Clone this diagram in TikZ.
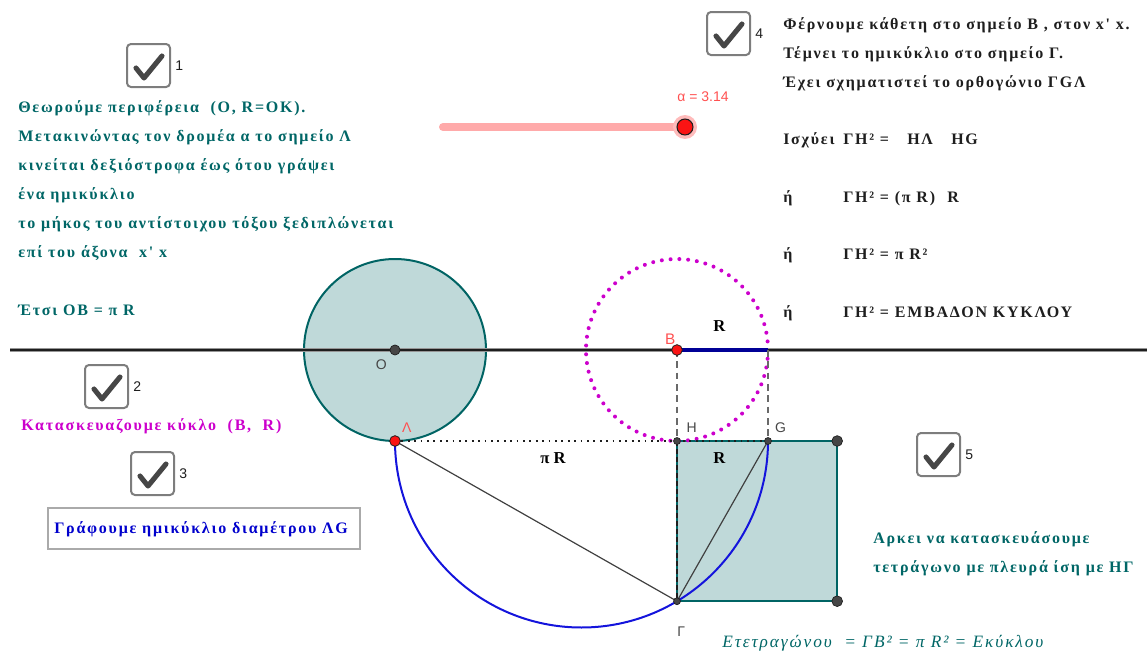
\documentclass[tikz,border=0pt]{standalone}
\usepackage{fontspec}
\setmainfont{Liberation Serif}
\newfontfamily\ptfont{Liberation Sans}
\newfontfamily\wideserif[LetterSpace=11]{Liberation Serif}
\usetikzlibrary{calc,positioning}
\definecolor{primary}{RGB}{30,30,30}
\definecolor{tealtext}{RGB}{0,102,102}
\definecolor{tealline}{RGB}{0,100,100}
\definecolor{discfill}{RGB}{191,217,217}
\definecolor{magentadot}{RGB}{204,0,204}
\definecolor{arcblue}{RGB}{20,20,220}
\definecolor{segblue}{RGB}{0,0,150}
\definecolor{ptred}{RGB}{250,20,20}
\definecolor{lblred}{RGB}{255,80,80}
\definecolor{slidered}{RGB}{255,170,170}
\definecolor{boxgray}{RGB}{125,125,125}
\definecolor{ptgray}{RGB}{70,70,70}
\definecolor{dashgray}{RGB}{105,105,105}
\definecolor{axisgray}{RGB}{150,150,150}
\definecolor{notegray}{RGB}{170,170,170}
\definecolor{noteblue}{RGB}{0,0,205}

\tikzset{
  ptlabel/.style={font=\ptfont\fontsize{10.5}{12}\selectfont, text=ptgray, inner sep=0pt},
  redlabel/.style={font=\ptfont\fontsize{10.5}{12}\selectfont, text=lblred, inner sep=0pt},
  bodytext/.style={font=\wideserif\bfseries\fontsize{12}{13}\selectfont, anchor=base west, inner sep=0pt},
  tickbox/.style={draw=boxgray, line width=1.5pt, rounded corners=3pt, fill=white},
  tickmark/.style={draw=ptgray, line width=3.8pt, line cap=round, line join=round},
  graypt/.style={fill=ptgray, draw=primary, line width=0.5pt},
  redpt/.style={fill=ptred, draw=primary, line width=0.6pt},
}

\newcommand{\checkitem}[4]{%
  \draw[tickbox] (#1,#2) rectangle ++(43,43);
  \draw[tickmark] ($(#1,#2)+(9,24)$) -- ++(8,10) -- ++(18,-22);
  \node[ptlabel, text=primary, anchor=west] (#4) at ($(#1,#2)+(48,22)$) {#3};
}

\begin{document}
\begin{tikzpicture}[x=0.75pt,y=-0.75pt]
\useasboundingbox (0,0) rectangle (1147,653);
\coordinate (O) at (395,350);
\coordinate (B) at (677,350);
\coordinate (K) at (768,350);
\coordinate (L) at (395,441);
\coordinate (H) at (677,441);
\coordinate (G) at (768,441);
\coordinate (Gm) at (677,601.2);
\coordinate (S1) at (837.2,441);
\coordinate (S2) at (837.2,601.2);
\coordinate (xl) at (10,350);
\coordinate (xr) at (1147,350);
\coordinate (sl) at (443,127);
\coordinate (sk) at (685,127);

\filldraw[fill=discfill,draw=tealline,line width=1.5pt] (O) circle (91);
\filldraw[fill=discfill,draw=tealline,line width=1.5pt] (H) -- (S1) -- (S2) -- (Gm) -- cycle;
\draw[magentadot,line width=3pt,line cap=round,dash pattern=on 0pt off 6.6pt] (B) circle (91);
\draw[axisgray,line width=3.2pt] (xl) -- (xr);
\draw[primary,line width=1.7pt] (xl) -- (xr);
\draw[segblue,line width=3pt] (B) -- (K);
\draw[dashgray,line width=1.1pt,dash pattern=on 5pt off 3.5pt] (B) -- (H) (K) -- (G);
\draw[primary,line width=1.1pt,dash pattern=on 1.3pt off 3.5pt] (L) -- (G);
\draw[primary,line width=1.1pt,dash pattern=on 4pt off 2pt] (H) -- (Gm);
\draw[arcblue,line width=1.5pt] (L) arc[start angle=180,end angle=0,radius=186.5];
\draw[primary!85,line width=0.9pt] (L) -- (Gm) -- (G);

\draw[slidered,line width=6pt,line cap=round] (sl) -- (sk);
\fill[slidered!80] (sk) circle (9pt);
\filldraw[fill=ptred,draw=primary,line width=0.8pt] (sk) circle (6pt);
\node[redlabel] (alpha) at (703,97) {α = 3.14};

\filldraw[graypt] (O) circle (3.8pt) node[ptlabel,below left=7pt and 6pt] (labO) {O};
\filldraw[graypt] (H) circle (2.6pt) node[ptlabel,above right=6pt and 7pt] (labH) {H};
\filldraw[graypt] (G) circle (2.6pt) node[ptlabel,above right=6pt and 5pt] (labG) {G};
\filldraw[graypt] (Gm) circle (2.6pt) node[ptlabel,below right=19pt and 0pt] (labGm) {Γ};
\filldraw[graypt] (S1) circle (4pt);
\filldraw[graypt] (S2) circle (4pt);
\filldraw[redpt] (L) circle (4pt) node[redlabel,above right=6pt and 5pt] (labL) {Λ};
\filldraw[redpt] (B) circle (4pt) node[redlabel,font=\ptfont\fontsize{11.5}{12}\selectfont,above left=4pt and 1pt] (labB) {B};

\node[bodytext,font=\bfseries\fontsize{12.5}{13}\selectfont] (rtop) at (713,331) {R};
\node[bodytext,font=\bfseries\fontsize{12.5}{13}\selectfont] (rsq) at (713,463) {R};
\node[bodytext,font=\bfseries\fontsize{12.5}{13}\selectfont] (pir) at (540,463) {π R};

\checkitem{127}{44}{1}{cb1}
\checkitem{85}{365}{2}{cb2}
\checkitem{131}{452}{3}{cb3}
\checkitem{707}{12}{4}{cb4}
\checkitem{917}{433}{5}{cb5}

\node[bodytext,text=tealtext] (a1) at (18,112) {Θεωρούμε περιφέρεια~ (O, R=OK).};
\node[bodytext,text=tealtext] (a2) at (18,141) {Μετακινώντας τον δρομέα α το σημείο Λ};
\node[bodytext,text=tealtext] (a3) at (18,170) {κινείται δεξιόστροφα έως ότου γράψει};
\node[bodytext,text=tealtext] (a4) at (18,199) {ένα ημικύκλιο};
\node[bodytext,text=tealtext] (a5) at (18,228) {το μήκος του αντίστοιχου τόξου ξεδιπλώνεται};
\node[bodytext,text=tealtext] (a6) at (18,257) {επί του άξονα~ x' x};
\node[bodytext,text=tealtext] (a7) at (18,315) {Έτσι OB = π R};

\node[bodytext,text=magentadot] (m1) at (21,430) {Κατασκευαζουμε κύκλο~ (B,~ R)};

\draw[notegray,line width=1.5pt,fill=white] (48,508) rectangle (360,549);
\node[bodytext,text=noteblue] (n1) at (54,533) {Γράφουμε ημικύκλιο διαμέτρου ΛG};

\node[bodytext,text=primary] (b1) at (783,29) {Φέρνουμε κάθετη στο σημείο B , στον x' x.};
\node[bodytext,text=primary] (b2) at (783,58) {Τέμνει το ημικύκλιο στο σημείο Γ.};
\node[bodytext,text=primary] (b3) at (783,87) {Έχει σχηματιστεί το ορθογώνιο ΓGΛ};
\node[bodytext,text=primary] (b4) at (783,144) {Ισχύει};
\node[bodytext,text=primary] (b4a) at (843,144) {ΓΗ² =};
\node[bodytext,text=primary] (b4b) at (907,144) {ΗΛ};
\node[bodytext,text=primary] (b4c) at (951,144) {HG};
\node[bodytext,text=primary] (b5) at (783,202) {ή};
\node[bodytext,text=primary] (b5a) at (843,202) {ΓΗ² = (π R)};
\node[bodytext,text=primary] (b5b) at (947,202) {R};
\node[bodytext,text=primary] (b6) at (783,259) {ή};
\node[bodytext,text=primary] (b6a) at (843,259) {ΓΗ² = π R²};
\node[bodytext,text=primary] (b7) at (783,317) {ή};
\node[bodytext,text=primary] (b7a) at (843,317) {ΓΗ² = ΕΜΒΑΔΟΝ ΚΥΚΛΟΥ};

\node[bodytext,text=tealtext] (c1) at (873,543) {Αρκει να κατασκευάσουμε};
\node[bodytext,text=tealtext] (c2) at (873,572) {τετράγωνο με πλευρά ίση με ΗΓ};
\node[bodytext,text=tealtext,font=\wideserif\itshape\fontsize{13}{14}\selectfont] (c3) at (722,647) {Ετετραγώνου~ = ΓΒ² = π R² = Εκύκλου};
\end{tikzpicture}
\end{document}
